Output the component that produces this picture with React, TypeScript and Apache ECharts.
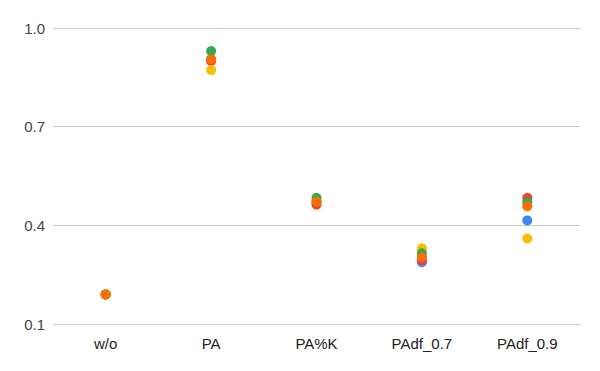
import React, { useEffect, useRef } from "react";
import * as echarts from "echarts";

const categories = ["w/o", "PA", "PA%K", "PAdf_0.7", "PAdf_0.9"];
const yTicks = [0.1, 0.4, 0.7, 1.0];

const seriesNames = ["Series 1", "Series 2", "Series 3", "Series 4", "Series 5"];
const seriesColors = ["#4285F4", "#EA4335", "#FBBC04", "#34A853", "#FF6D01"];

const blueValues = [0.19, 0.905, 0.47, 0.288, 0.415];
const redValues = [0.19, 0.9, 0.463, 0.294, 0.484];
const yellowValues = [0.19, 0.872, 0.475, 0.33, 0.36];
const greenValues = [0.19, 0.93, 0.484, 0.315, 0.47];
const orangeValues = [0.19, 0.905, 0.472, 0.303, 0.458];

const allValues = [blueValues, redValues, yellowValues, greenValues, orangeValues];

export default function App() {
  const ref = useRef<HTMLDivElement>(null);
  useEffect(() => {
    if (!ref.current) return;
    const chart = echarts.init(ref.current, null, { renderer: "svg" });
    chart.setOption({
      animation: false,
      textStyle: { fontFamily: "Liberation Sans, Arial, sans-serif" },
      grid: { left: 53, right: 20, top: 28, bottom: 47 },
      xAxis: {
        type: "category",
        data: categories,
        axisLine: { show: false },
        axisTick: { show: false },
        axisLabel: { color: "#222222", fontSize: 15, margin: 12 },
      },
      yAxis: {
        type: "value",
        min: 0.1,
        max: 1.0,
        axisLine: { show: false },
        axisTick: { show: false, customValues: yTicks },
        axisLabel: {
          color: "#444444",
          fontSize: 15,
          margin: 8,
          customValues: yTicks,
          formatter: (v: number) => v.toFixed(1),
        },
        splitLine: { show: true, lineStyle: { color: "#cccccc", width: 1 } },
      },
      series: allValues.map((vals, i) => ({
        name: seriesNames[i],
        type: "scatter",
        symbol: "circle",
        symbolSize: 10,
        itemStyle: { color: seriesColors[i], opacity: 1 },
        data: vals.map((v, j) => [categories[j], v]),
      })),
    });
    return () => chart.dispose();
  }, []);
  return <div ref={ref} style={{ width: 600, height: 371, position: "absolute", left: 0, top: 0 }} />;
}
